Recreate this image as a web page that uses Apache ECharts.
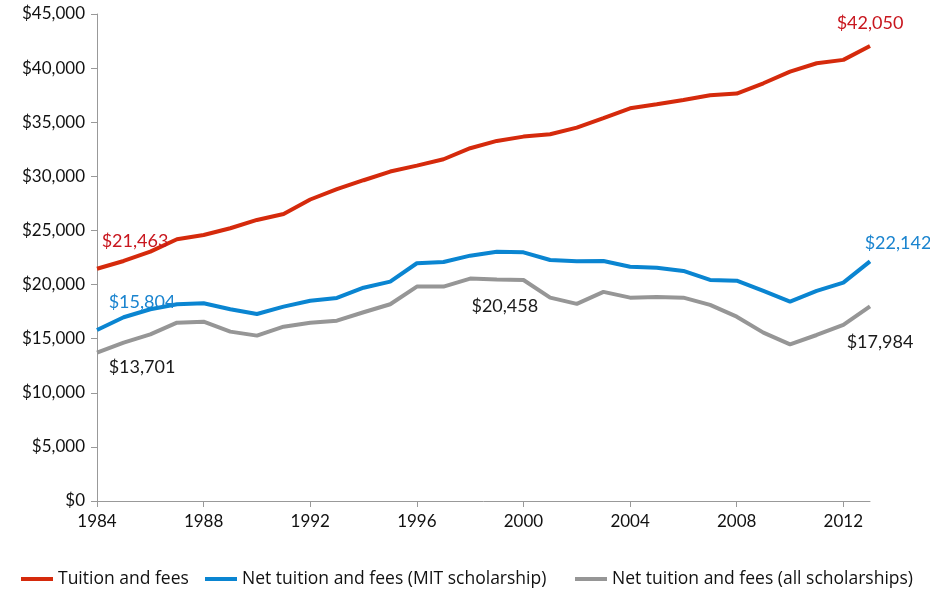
<!DOCTYPE html>
<html>
<head>
<meta charset="utf-8">
<script src="https://cdn.jsdelivr.net/npm/echarts@6/dist/echarts.min.js"></script>
<style>
  html, body { margin: 0; padding: 0; background: #fff; }
  #chart { width: 930px; height: 589px; }
</style>
</head>
<body>
<div id="chart"></div>
<script>
const years = []
for (let y = 1984; y <= 2013; y++) years.push(String(y))

const tuition = [21463, 22180, 23040, 24190, 24580, 25200, 25970, 26520, 27860, 28810,
  29640, 30440, 30990, 31580, 32600, 33270, 33670, 33890, 34500, 35370,
  36290, 36660, 37060, 37490, 37650, 38600, 39680, 40450, 40760, 42050]
const netMit = [15804, 16980, 17720, 18180, 18270, 17720, 17280, 17960, 18510, 18760,
  19710, 20270, 21970, 22090, 22670, 23040, 22980, 22270, 22150, 22180,
  21650, 21560, 21260, 20430, 20360, 19410, 18420, 19410, 20180, 22142]
const netAll = [13701, 14630, 15400, 16480, 16570, 15650, 15280, 16110, 16480, 16660,
  17440, 18180, 19810, 19810, 20550, 20458, 20420, 18790, 18210, 19320,
  18790, 18850, 18790, 18120, 17030, 15560, 14480, 15340, 16270, 17984]

const seriesNames = ['Tuition and fees', 'Net tuition and fees (MIT scholarship)', 'Net tuition and fees (all scholarships)']
const colors = ['#d52a0c', '#0a85d1', '#969696']
const labelColors = ['#c8161e', '#1a84cf', '#1a1a1a']

// which points carry a value label, and where it sits
const labelled = [
  { 0: { position: 'top', offset: [38, -14] }, 29: { position: 'top', offset: [0, -9] } },
  { 0: { position: 'top', offset: [45, -14] }, 29: { position: 'top', offset: [28, -4] } },
  { 0: { position: 'bottom', offset: [45, 0] }, 15: { position: 'bottom', offset: [8, 13] }, 29: { position: 'bottom', offset: [10, 22] } }
]

const fmt = v => '$' + v.toLocaleString('en-US')
const font = 'Lato'

const makeData = (vals, i) => vals.map((v, k) => {
  const l = labelled[i][k]
  if (!l) return v
  return {
    value: v,
    label: {
      show: true, position: l.position, offset: l.offset,
      formatter: p => fmt(p.value), color: labelColors[i],
      fontFamily: font, fontSize: 18
    }
  }
})

// one legend per item so each sits where the original puts it
const legendLefts = [16, 200, 570]
const legends = seriesNames.map((name, i) => ({
  top: 565, left: legendLefts[i],
  icon: 'rect', itemWidth: 32, itemHeight: 4,
  textStyle: { fontFamily: 'Open Sans', fontSize: 17.5, color: '#111' },
  data: [name]
}))

const chart = echarts.init(document.getElementById('chart'))
chart.setOption({
  animation: false,
  grid: { left: 97, right: 60, top: 14, bottom: 88, containLabel: false },
  legend: legends,
  xAxis: {
    type: 'category', boundaryGap: false, data: years,
    axisLine: { lineStyle: { color: '#999' } },
    axisTick: { interval: 3, length: 6, lineStyle: { color: '#999' } },
    axisLabel: { interval: 3, margin: 12, color: '#111', fontFamily: font, fontSize: 17 }
  },
  yAxis: {
    type: 'value', min: 0, max: 45000, interval: 5000,
    axisLine: { show: true, lineStyle: { color: '#999' } },
    axisTick: { show: true, length: 6, lineStyle: { color: '#999' } },
    splitLine: { show: false },
    axisLabel: { formatter: v => fmt(v), margin: 12, color: '#111', fontFamily: font, fontSize: 17 }
  },
  series: [tuition, netMit, netAll].map((vals, i) => ({
    name: seriesNames[i], type: 'line', showSymbol: true, symbol: 'circle', symbolSize: 0,
    color: colors[i], lineStyle: { width: 4, color: colors[i] },
    data: makeData(vals, i)
  }))
})
</script>
</body>
</html>
